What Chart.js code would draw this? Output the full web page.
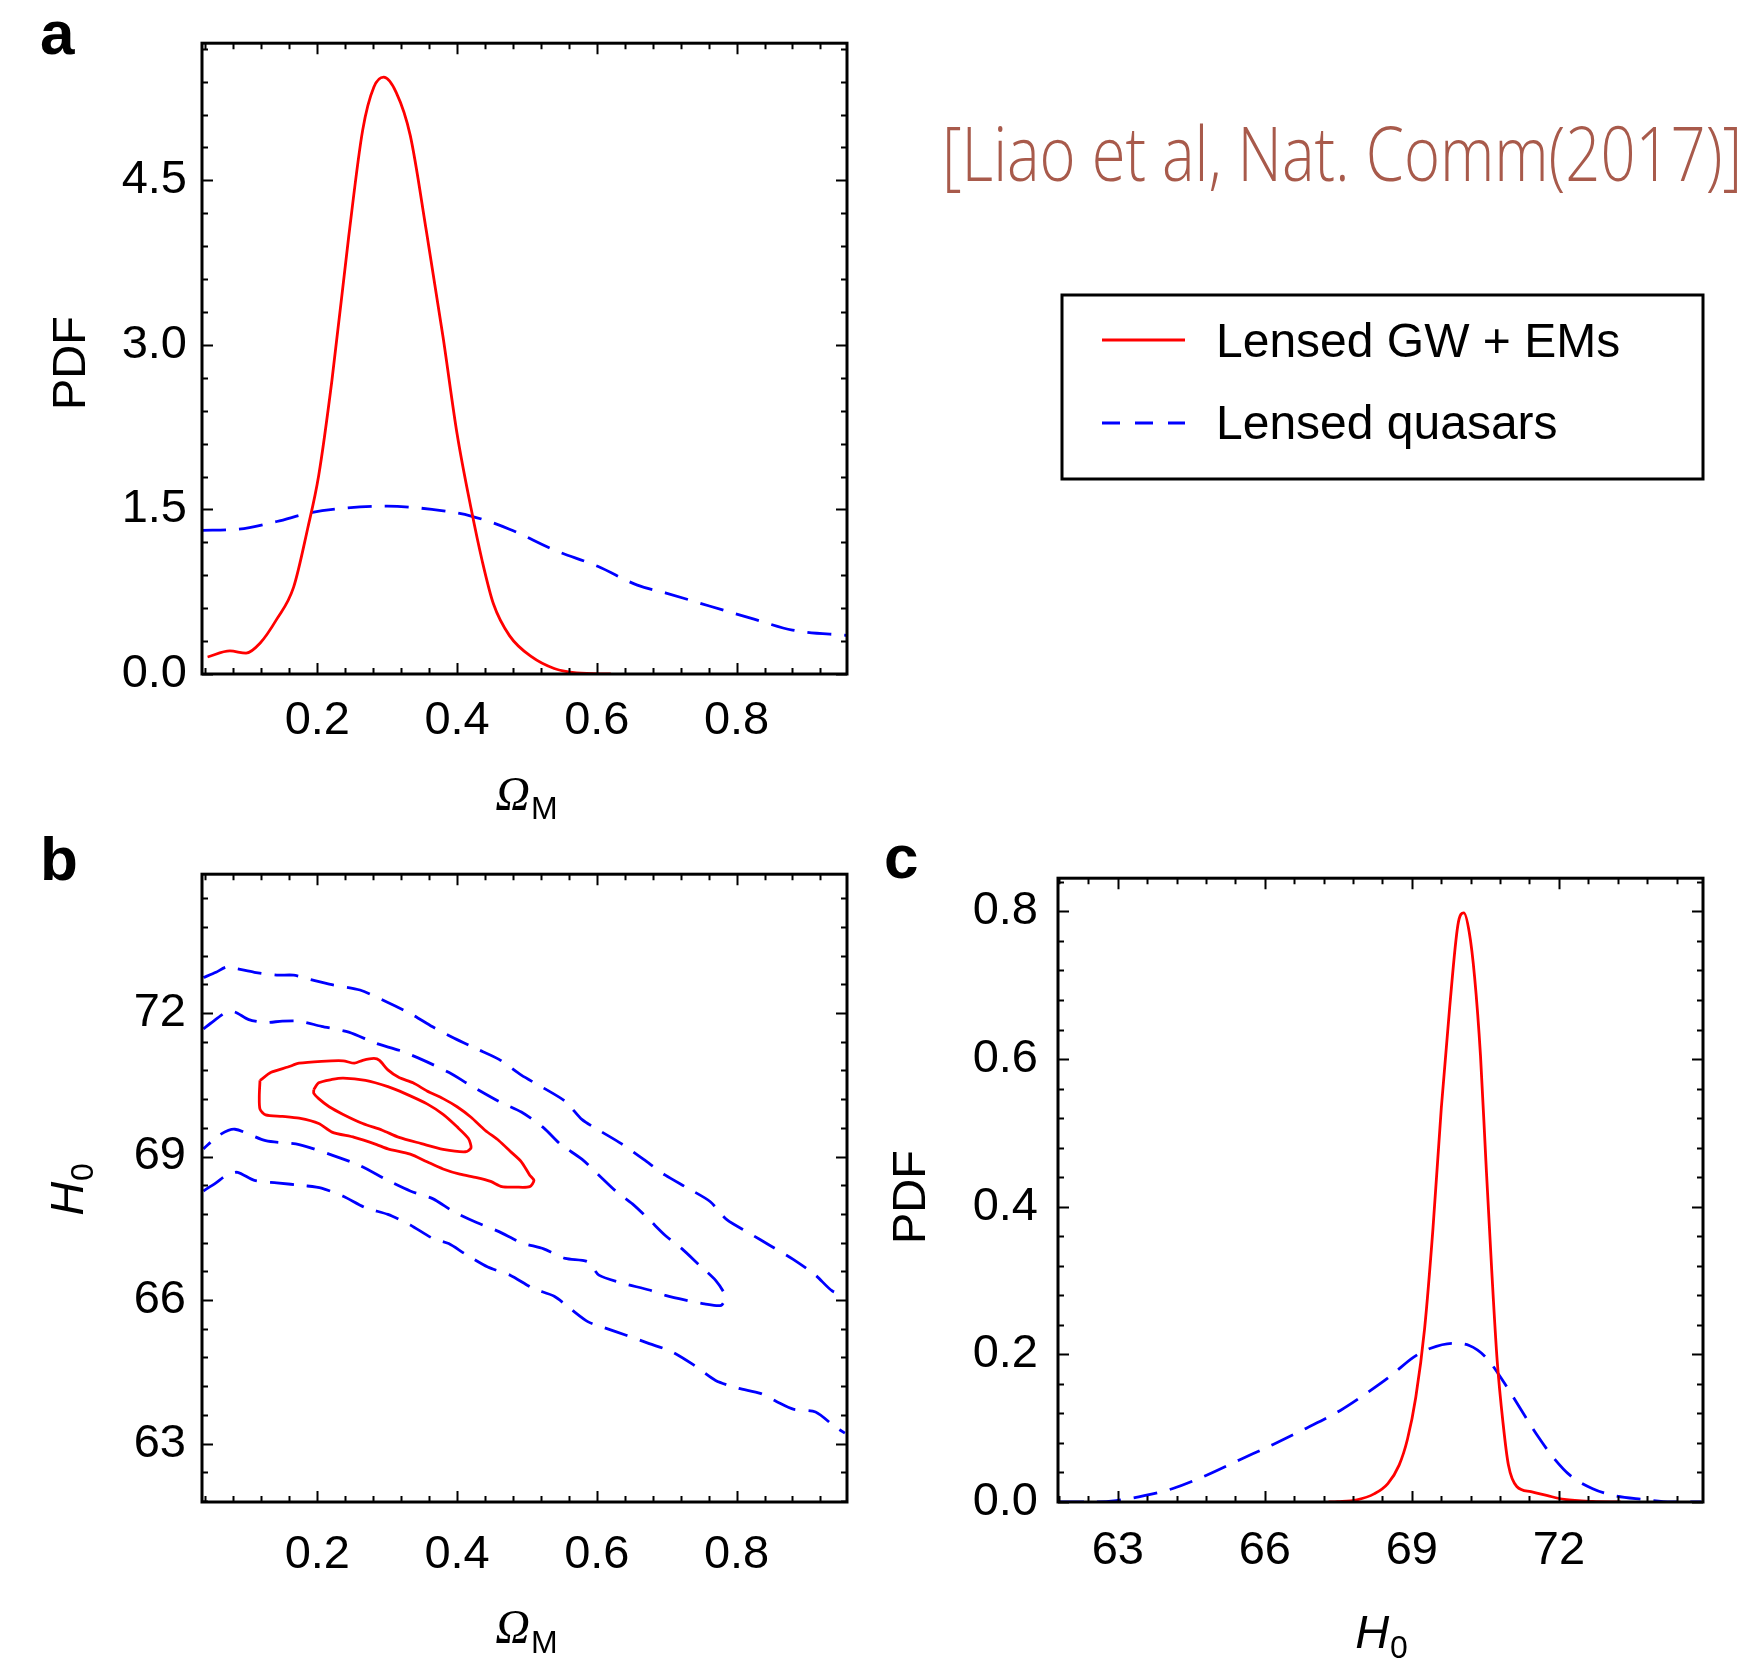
<!DOCTYPE html>
<html>
<head>
<meta charset="utf-8">
<script src="https://cdn.jsdelivr.net/npm/chart.js@4.4.0/dist/chart.umd.min.js"></script>
<style>
  body { margin: 0; background: #fff; }
  #wrap { position: relative; width: 1749px; height: 1660px; overflow: hidden; }
  canvas { position: absolute; }
</style>
</head>
<body>
<div id="wrap">
  <canvas id="chartA" width="1749" height="830" style="left:0;top:0"></canvas>
  <canvas id="chartB" width="870" height="830" style="left:0;top:830px"></canvas>
  <canvas id="chartC" width="879" height="830" style="left:870px;top:830px"></canvas>
</div>
<script>
// ---- panel a: PDF of Omega_M ----
const omRedX = [0.043, 0.075, 0.098, 0.118, 0.142, 0.166, 0.186, 0.202, 0.221, 0.245, 0.265, 0.281, 0.295, 0.313, 0.333, 0.356, 0.380, 0.400, 0.420, 0.436, 0.452, 0.475, 0.507, 0.539, 0.571, 0.62];
const omRedY = [0.155, 0.21, 0.19, 0.28, 0.50, 0.79, 1.32, 1.81, 2.68, 3.99, 4.96, 5.35, 5.44, 5.30, 4.91, 4.04, 3.07, 2.19, 1.51, 1.03, 0.64, 0.35, 0.155, 0.05, 0.01, 0.0];
const omBlueX = [0.035, 0.087, 0.142, 0.19, 0.237, 0.30, 0.364, 0.42, 0.475, 0.539, 0.602, 0.658, 0.698, 0.761, 0.825, 0.88, 0.96];
const omBlueY = [1.31, 1.32, 1.39, 1.47, 1.51, 1.53, 1.50, 1.44, 1.32, 1.13, 0.98, 0.81, 0.74, 0.62, 0.50, 0.40, 0.35];

// ---- panel b: contours in (Omega_M, H0) ----
const gwInnerX = [0.195, 0.202, 0.221, 0.237, 0.269, 0.301, 0.325, 0.357, 0.380, 0.400, 0.416, 0.420, 0.412, 0.380, 0.349, 0.317, 0.293, 0.265, 0.237, 0.217, 0.202, 0.195, 0.195];
const gwInnerY = [70.40, 70.54, 70.61, 70.64, 70.59, 70.46, 70.32, 70.10, 69.88, 69.62, 69.38, 69.18, 69.10, 69.15, 69.27, 69.40, 69.55, 69.69, 69.88, 70.04, 70.21, 70.32, 70.40];
const gwOuterX = [0.118, 0.134, 0.158, 0.174, 0.206, 0.237, 0.253, 0.265, 0.281, 0.289, 0.301, 0.317, 0.337, 0.357, 0.380, 0.400, 0.420, 0.440, 0.460, 0.476, 0.492, 0.504, 0.510, 0.504, 0.484, 0.464, 0.448, 0.428, 0.404, 0.380, 0.357, 0.333, 0.301, 0.285, 0.253, 0.221, 0.202, 0.174, 0.150, 0.126, 0.118, 0.117, 0.118];
const gwOuterY = [70.59, 70.76, 70.87, 70.95, 70.99, 71.00, 70.95, 71.01, 71.05, 71.01, 70.81, 70.65, 70.54, 70.37, 70.21, 70.04, 69.82, 69.55, 69.33, 69.11, 68.89, 68.61, 68.50, 68.37, 68.36, 68.37, 68.48, 68.56, 68.63, 68.74, 68.89, 69.05, 69.16, 69.25, 69.40, 69.51, 69.69, 69.80, 69.84, 69.87, 69.99, 70.26, 70.59];
const qsoInnerX = [0.037, 0.047, 0.070, 0.082, 0.102, 0.126, 0.150, 0.174, 0.206, 0.245, 0.285, 0.317, 0.349, 0.388, 0.420, 0.460, 0.492, 0.524, 0.547, 0.579, 0.603, 0.627, 0.651, 0.675, 0.698, 0.722, 0.746, 0.770, 0.784,
                   0.778, 0.754, 0.730, 0.698, 0.675, 0.635, 0.603, 0.587, 0.555, 0.524, 0.492, 0.460, 0.428, 0.396, 0.365, 0.333, 0.301, 0.261, 0.221, 0.174, 0.126, 0.082, 0.060, 0.037];
const qsoInnerY = [71.67, 71.78, 72.02, 72.02, 71.86, 71.80, 71.83, 71.83, 71.72, 71.60, 71.36, 71.22, 71.03, 70.76, 70.48, 70.15, 69.93, 69.60, 69.27, 68.94, 68.61, 68.28, 68.01, 67.68, 67.35, 67.07, 66.74, 66.41, 66.08,
                   65.89, 65.92, 65.99, 66.10, 66.21, 66.36, 66.52, 66.80, 66.87, 67.07, 67.20, 67.43, 67.62, 67.84, 68.12, 68.28, 68.50, 68.81, 69.03, 69.25, 69.33, 69.57, 69.45, 69.16];
const qsoOuterUpX = [0.037, 0.055, 0.070, 0.086, 0.110, 0.142, 0.166, 0.190, 0.221, 0.261, 0.301, 0.333, 0.365, 0.396, 0.428, 0.460, 0.492, 0.524, 0.555, 0.579, 0.603, 0.635, 0.667, 0.698, 0.730, 0.762, 0.786, 0.818, 0.849, 0.881, 0.913, 0.937, 0.960];
const qsoOuterUpY = [72.74, 72.85, 72.96, 72.92, 72.85, 72.79, 72.79, 72.70, 72.59, 72.48, 72.22, 71.99, 71.71, 71.47, 71.25, 71.03, 70.70, 70.43, 70.15, 69.77, 69.55, 69.27, 68.94, 68.61, 68.34, 68.06, 67.68, 67.40, 67.13, 66.85, 66.52, 66.19, 66.08];
const qsoOuterLoX = [0.037, 0.055, 0.070, 0.086, 0.110, 0.142, 0.182, 0.206, 0.237, 0.269, 0.301, 0.333, 0.365, 0.388, 0.412, 0.444, 0.476, 0.508, 0.539, 0.563, 0.587, 0.611, 0.643, 0.675, 0.706, 0.738, 0.770, 0.802, 0.834, 0.857, 0.881, 0.913, 0.941, 0.955];
const qsoOuterLoY = [68.28, 68.45, 68.61, 68.67, 68.50, 68.45, 68.39, 68.34, 68.17, 67.93, 67.79, 67.57, 67.29, 67.18, 66.96, 66.69, 66.52, 66.25, 66.08, 65.81, 65.55, 65.42, 65.26, 65.09, 64.93, 64.65, 64.32, 64.16, 64.05, 63.88, 63.72, 63.66, 63.35, 63.22];

// ---- panel c: PDF of H0 ----
const h0RedX = [67.3, 67.48, 67.88, 68.23, 68.51, 68.74, 68.91, 69.08, 69.26, 69.43, 69.60, 69.77, 69.94, 70.06, 70.17, 70.28, 70.40, 70.51, 70.63, 70.74, 70.86, 70.97, 71.14, 71.43, 71.77, 72.11, 72.69, 73.26];
const h0RedY = [0, 0.0005, 0.003, 0.011, 0.025, 0.05, 0.085, 0.142, 0.235, 0.37, 0.533, 0.669, 0.782, 0.798, 0.772, 0.711, 0.605, 0.462, 0.313, 0.192, 0.107, 0.05, 0.021, 0.014, 0.0085, 0.0036, 0.0007, 0];
const h0BlueX = [61.82, 62.51, 62.97, 63.54, 64.11, 64.80, 65.48, 66.17, 66.85, 67.54, 68.11, 68.57, 69.03, 69.37, 69.83, 70.17, 70.51, 70.86, 71.20, 71.54, 71.89, 72.23, 72.69, 73.14, 73.71, 74.29, 74.9];
const h0BlueY = [0, 0, 0.002, 0.0085, 0.018, 0.036, 0.057, 0.078, 0.10, 0.124, 0.149, 0.171, 0.196, 0.208, 0.215, 0.212, 0.196, 0.164, 0.128, 0.092, 0.06, 0.036, 0.018, 0.0085, 0.0036, 0, 0];

// ---- ticks ----
const omTicks = [0.2, 0.4, 0.6, 0.8];
const pdfOmTicks = [0, 1.5, 3.0, 4.5];
const h0Ticks = [63, 66, 69, 72];
const pdfH0Ticks = [0, 0.2, 0.4, 0.6, 0.8];

const labelGW = 'Lensed GW + EMs';
const labelQSO = 'Lensed quasars';
const citation = '[Liao et al, Nat. Comm(2017)]';

const RED = '#ff0000';
const BLUE = '#0000ff';
const SANS = "'Liberation Sans', Arial, Helvetica, sans-serif";
const DASH = [24, 13];

function pairs(xs, ys) {
    return xs.map((x, i) => ({ x: x, y: ys[i] }));
}

function curve(label, xs, ys, color, dashed, mode) {
    return {
        label: label,
        data: pairs(xs, ys),
        showLine: true,
        borderColor: color,
        backgroundColor: color,
        borderWidth: 2.8,
        borderDash: dashed ? DASH : [],
        pointRadius: 0,
        fill: false,
        cubicInterpolationMode: mode === 'pdf' ? 'monotone' : 'default',
        tension: mode === 'pdf' ? 0 : 0.25
    };
}

// frame with inward major/minor ticks on all four sides (Mathematica style)
const frameTicks = {
    id: 'frameTicks',
    afterDatasetsDraw(chart, args, opts) {
        const ctx = chart.ctx, a = chart.chartArea;
        const sx = chart.scales.x, sy = chart.scales.y;
        const isMajor = (v, m) => Math.abs(v / m - Math.round(v / m)) < 1e-6;
        ctx.save();
        ctx.strokeStyle = '#000';
        ctx.lineWidth = 2;
        ctx.beginPath();
        for (let k = Math.ceil(sx.min / opts.xMinor - 1e-9); k * opts.xMinor <= sx.max + 1e-9; k++) {
            const v = k * opts.xMinor;
            const len = isMajor(v, opts.xMajor) ? 11 : 6;
            const p = Math.round(sx.getPixelForValue(v)) + 0.5;
            ctx.moveTo(p, a.bottom); ctx.lineTo(p, a.bottom - len);
            ctx.moveTo(p, a.top); ctx.lineTo(p, a.top + len);
        }
        for (let k = Math.ceil(sy.min / opts.yMinor - 1e-9); k * opts.yMinor <= sy.max + 1e-9; k++) {
            const v = k * opts.yMinor;
            const len = isMajor(v, opts.yMajor) ? 11 : 6;
            const p = Math.round(sy.getPixelForValue(v)) + 0.5;
            ctx.moveTo(a.left, p); ctx.lineTo(a.left + len, p);
            ctx.moveTo(a.right, p); ctx.lineTo(a.right - len, p);
        }
        ctx.stroke();
        ctx.lineWidth = 3;
        ctx.strokeRect(a.left, a.top, a.right - a.left, a.bottom - a.top);
        ctx.restore();
    }
};

// text drawn at page coordinates, shifted into each canvas
function labelWithSub(ctx, main, sub, mainFont, subFont, cx, base, drop, rotated) {
    ctx.save();
    ctx.fillStyle = '#000';
    ctx.textBaseline = 'alphabetic';
    ctx.textAlign = 'left';
    ctx.font = mainFont;
    const w1 = ctx.measureText(main).width;
    ctx.font = subFont;
    const w2 = ctx.measureText(sub).width;
    if (rotated) {
        ctx.translate(base, cx);
        ctx.rotate(-Math.PI / 2);
    } else {
        ctx.translate(cx, base);
    }
    const start = -(w1 + w2) / 2;
    ctx.font = mainFont;
    ctx.fillText(main, start, 0);
    ctx.font = subFont;
    ctx.fillText(sub, start + w1 + 1, drop);
    ctx.restore();
}

function panelLetter(ctx, ch, x, base) {
    ctx.save();
    ctx.fillStyle = '#000';
    ctx.font = 'bold 62px ' + SANS;
    ctx.textBaseline = 'alphabetic';
    ctx.fillText(ch, x, base);
    ctx.restore();
}

const OMEGA_FONT = 'italic 48px "Liberation Serif", serif';
const H_FONT = 'italic 47px ' + SANS;
const SUB_FONT = '32px ' + SANS;
const TITLE_FONT = '47px ' + SANS;

const extras = {
    chartA(chart, ctx) {
        panelLetter(ctx, 'a', 40, 54);
        labelWithSub(ctx, 'PDF', '', TITLE_FONT, SUB_FONT, 363, 85, 0, true);
        labelWithSub(ctx, '\u03A9', 'M', OMEGA_FONT, SUB_FONT, 526, 810, 9, false);

        // citation
        ctx.save();
        ctx.font = '300 75px "Open Sans", ' + SANS;
        const w = ctx.measureText(citation).width;
        ctx.translate(942, 181);
        ctx.scale(800 / w, 1);
        ctx.fillStyle = '#a85a4b';
        ctx.textBaseline = 'alphabetic';
        ctx.fillText(citation, 0, 0);
        ctx.restore();

        // legend box, built from the datasets
        ctx.save();
        ctx.strokeStyle = '#000';
        ctx.lineWidth = 3;
        ctx.strokeRect(1062, 295, 641, 184);
        const rows = [[340, 357], [423, 439]];
        chart.data.datasets.forEach((ds, i) => {
            ctx.beginPath();
            ctx.strokeStyle = ds.borderColor;
            ctx.lineWidth = 3;
            ctx.setLineDash(ds.borderDash.length ? [18, 15] : []);
            ctx.moveTo(1102, rows[i][0]);
            ctx.lineTo(1185, rows[i][0]);
            ctx.stroke();
            ctx.setLineDash([]);
            ctx.fillStyle = '#000';
            ctx.font = '48px ' + SANS;
            ctx.fillText(ds.label, 1216, rows[i][1]);
        });
        ctx.restore();
    },
    chartB(chart, ctx) {
        ctx.save();
        ctx.translate(0, -830);
        panelLetter(ctx, 'b', 40, 880);
        labelWithSub(ctx, 'H', '0', H_FONT, SUB_FONT, 1190, 83, 10, true);
        labelWithSub(ctx, '\u03A9', 'M', OMEGA_FONT, SUB_FONT, 526, 1643, 10, false);
        ctx.restore();
    },
    chartC(chart, ctx) {
        ctx.save();
        ctx.translate(-870, -830);
        panelLetter(ctx, 'c', 884, 878);
        labelWithSub(ctx, 'PDF', '', TITLE_FONT, SUB_FONT, 1197, 925, 0, true);
        labelWithSub(ctx, 'H', '0', H_FONT, SUB_FONT, 1381, 1648, 10, false);
        ctx.restore();
    }
};

const annot = {
    id: 'annot',
    afterDraw(chart) {
        const f = extras[chart.canvas.id];
        if (f) f(chart, chart.ctx);
    }
};

function makePanel(id, cfg) {
    return new Chart(document.getElementById(id), {
        type: 'scatter',
        data: { datasets: cfg.datasets },
        options: {
            responsive: false,
            animation: false,
            devicePixelRatio: 1,
            layout: { padding: { left: 0, top: cfg.padTop, right: cfg.padRight, bottom: 0 } },
            plugins: {
                legend: { display: false },
                tooltip: { enabled: false },
                frameTicks: cfg.minor
            },
            scales: {
                x: {
                    type: 'linear',
                    min: cfg.xMin, max: cfg.xMax,
                    grid: { display: false, drawTicks: false },
                    border: { display: false },
                    afterBuildTicks: s => { s.ticks = cfg.xTicks.map(v => ({ value: v })); },
                    afterFit: s => { s.height = cfg.xHeight; },
                    ticks: {
                        padding: cfg.xPad,
                        color: '#000',
                        maxRotation: 0,
                        font: { family: SANS, size: 47 },
                        callback: v => cfg.xFmt(v)
                    }
                },
                y: {
                    type: 'linear',
                    min: cfg.yMin, max: cfg.yMax,
                    grid: { display: false, drawTicks: false },
                    border: { display: false },
                    afterBuildTicks: s => { s.ticks = cfg.yTicks.map(v => ({ value: v })); },
                    afterFit: s => { s.width = cfg.yWidth; },
                    ticks: {
                        padding: cfg.yPad,
                        color: '#000',
                        font: { family: SANS, size: 47 },
                        callback: v => cfg.yFmt(v)
                    }
                }
            }
        },
        plugins: [frameTicks, annot]
    });
}

makePanel('chartA', {
    datasets: [
        curve(labelGW, omRedX, omRedY, RED, false, 'pdf'),
        curve(labelQSO, omBlueX, omBlueY, BLUE, true, 'pdf')
    ],
    xMin: 0.035, xMax: 0.958, yMin: 0, yMax: 5.75,
    xTicks: omTicks, yTicks: pdfOmTicks,
    xFmt: v => v.toFixed(1), yFmt: v => v.toFixed(1),
    padTop: 43, padRight: 902, xHeight: 156, yWidth: 202, xPad: 19, yPad: 15,
    minor: { xMinor: 0.04, xMajor: 0.2, yMinor: 0.3, yMajor: 1.5 }
});

makePanel('chartB', {
    datasets: [
        curve(labelGW, gwInnerX, gwInnerY, RED, false, 'contour'),
        curve(labelGW, gwOuterX, gwOuterY, RED, false, 'contour'),
        curve(labelQSO, qsoInnerX, qsoInnerY, BLUE, true, 'contour'),
        curve(labelQSO, qsoOuterUpX, qsoOuterUpY, BLUE, true, 'contour'),
        curve(labelQSO, qsoOuterLoX, qsoOuterLoY, BLUE, true, 'contour')
    ],
    xMin: 0.035, xMax: 0.958, yMin: 61.78, yMax: 74.9,
    xTicks: omTicks, yTicks: h0Ticks,
    xFmt: v => v.toFixed(1), yFmt: v => String(v),
    padTop: 41, padRight: 23, xHeight: 158, yWidth: 202, xPad: 25, yPad: 16,
    minor: { xMinor: 0.04, xMajor: 0.2, yMinor: 0.6, yMajor: 3 }
});

makePanel('chartC', {
    datasets: [
        curve(labelGW, h0RedX, h0RedY, RED, false, 'pdf'),
        curve(labelQSO, h0BlueX, h0BlueY, BLUE, true, 'pdf')
    ],
    xMin: 61.78, xMax: 74.94, yMin: 0, yMax: 0.845,
    xTicks: h0Ticks, yTicks: pdfH0Ticks,
    xFmt: v => String(v), yFmt: v => v.toFixed(1),
    padTop: 41, padRight: 46, xHeight: 158, yWidth: 188, xPad: 21, yPad: 20,
    minor: { xMinor: 0.6, xMajor: 3, yMinor: 0.04, yMajor: 0.2 }
});
</script>
</body>
</html>
